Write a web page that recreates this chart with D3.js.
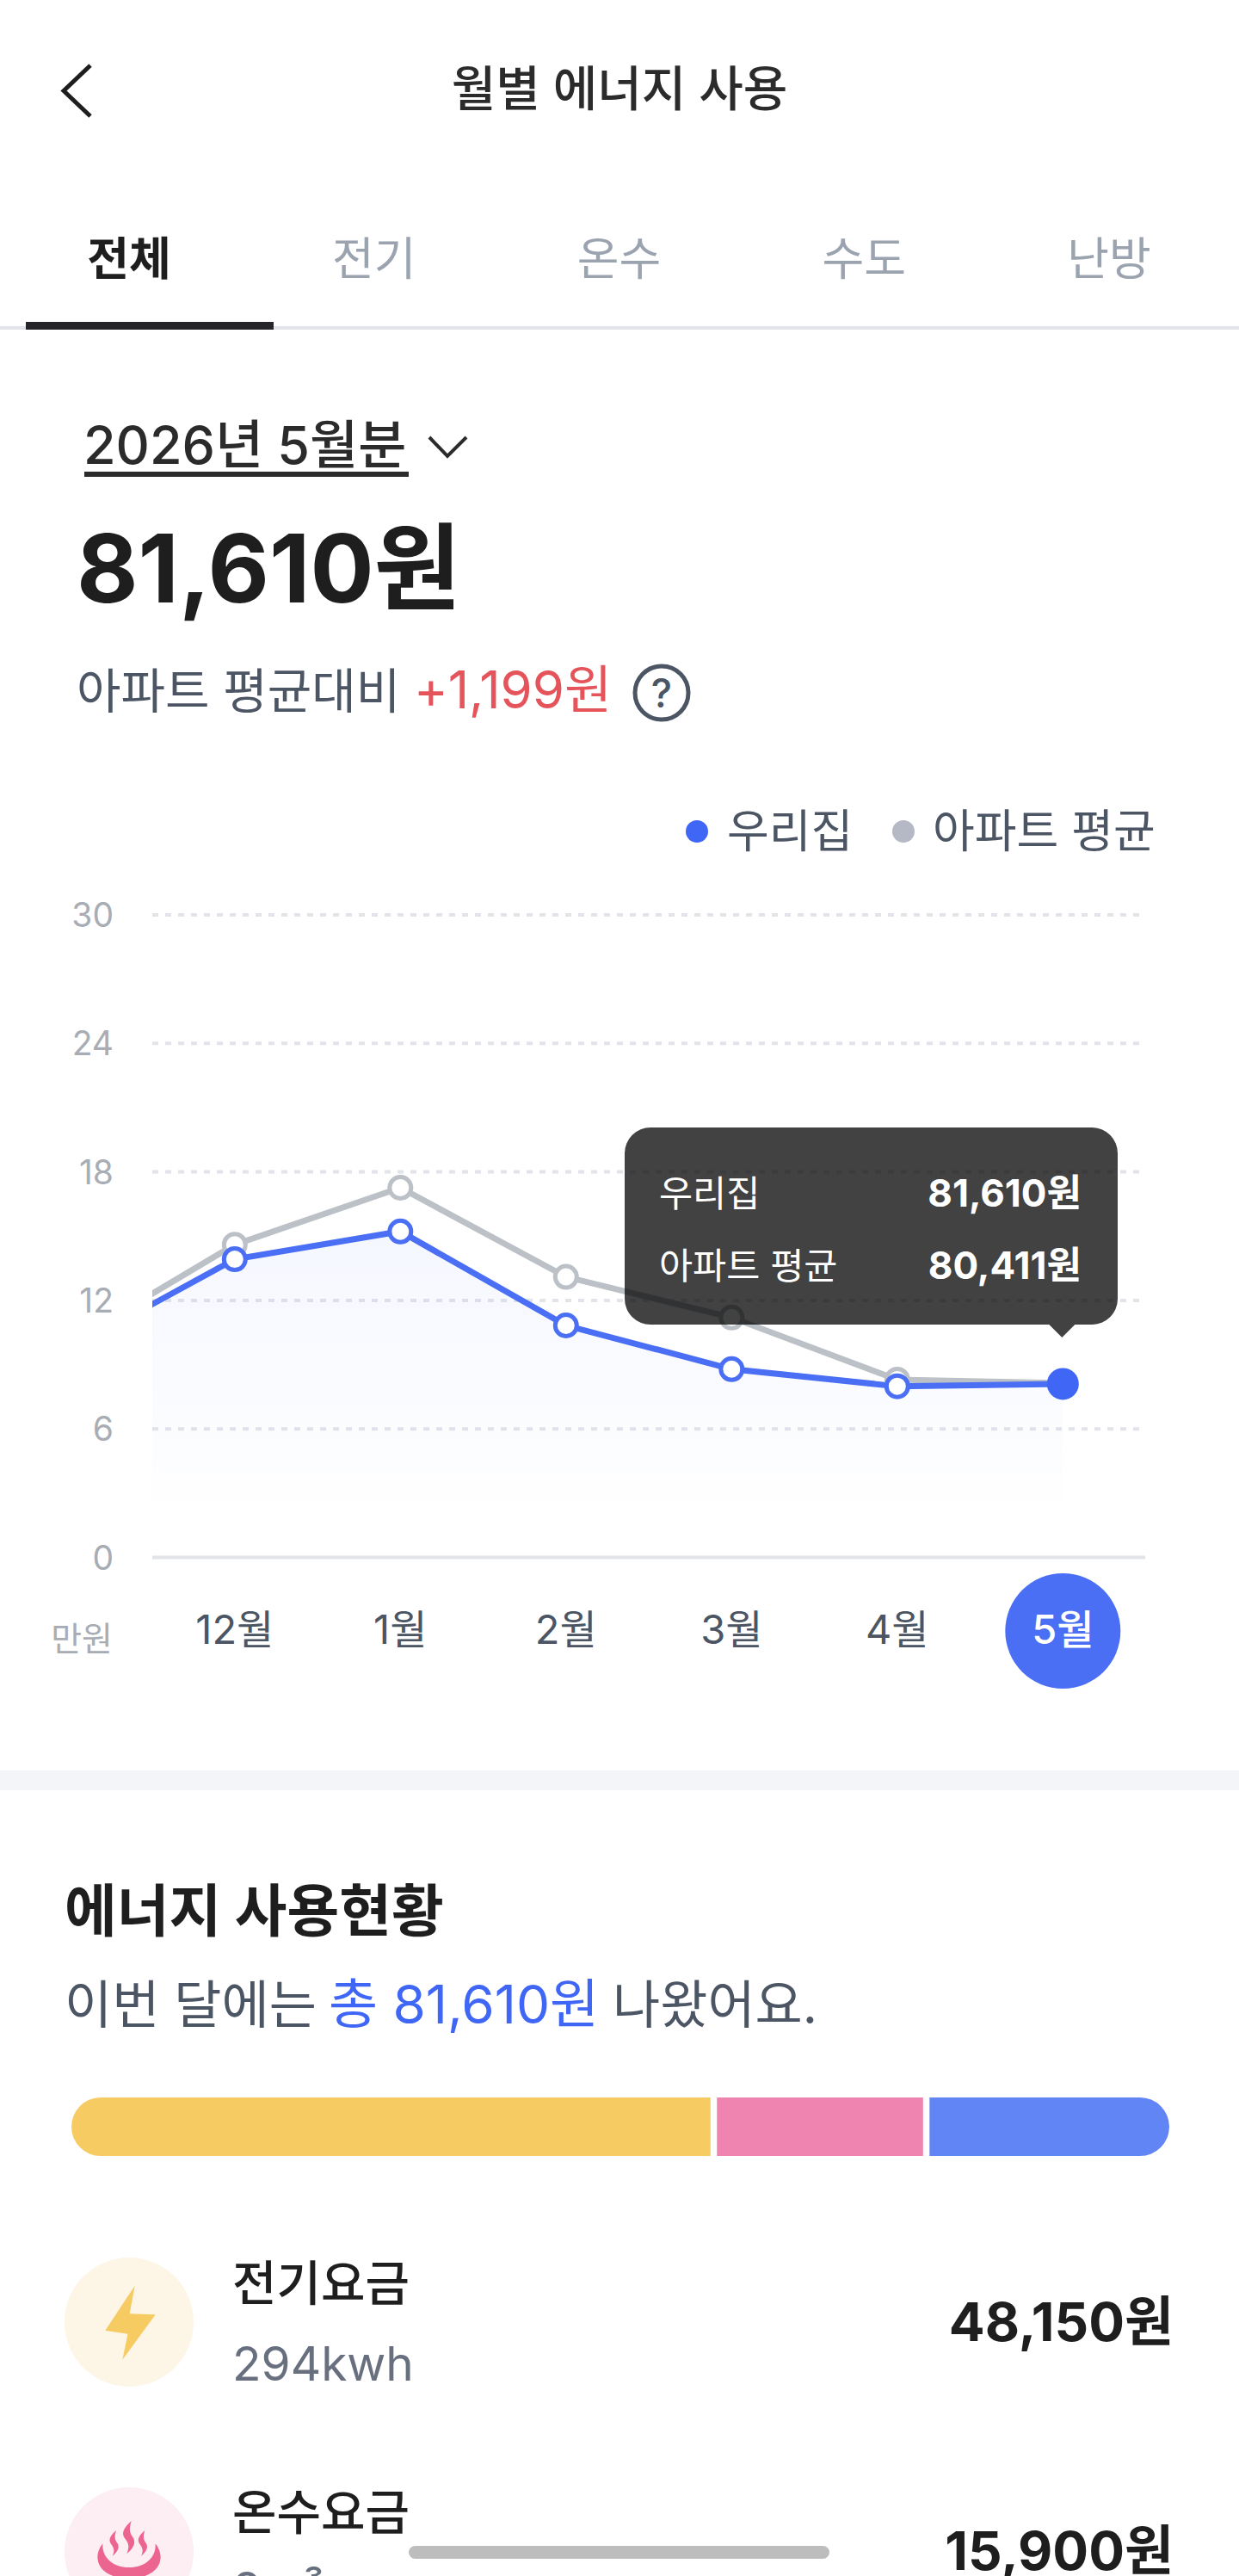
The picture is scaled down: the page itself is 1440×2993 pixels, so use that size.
<!DOCTYPE html>
<html lang="ko">
<head>
<meta charset="utf-8">
<title>월별 에너지 사용</title>
<script src="https://cdn.jsdelivr.net/npm/d3@7/dist/d3.min.js"></script>
<style>
  html, body { margin: 0; padding: 0; background: #fff; }
  svg { display: block; }
  text { font-family: Inter, "Noto Sans CJK KR", sans-serif; }
</style>
</head>
<body>
<div id="page"></div>
<script>
// Monthly values in 만원. 11월 sits left of the plot and only feeds the clipped line start.
const months = ['11월', '12월', '1월', '2월', '3월', '4월', '5월'];
const ourHome = [9.7, 13.92, 15.22, 10.83, 8.79, 7.99, 8.1];
const aptAverage = [10, 14.6, 17.26, 13.1, 11.2, 8.3, 8.14];
const yTicks = [0, 6, 12, 18, 24, 30];

const tabs = ['전체', '전기', '온수', '수도', '난방'];
const tooltipRows = [['우리집', '81,610원'], ['아파트 평균', '80,411원']];

// Share of the usage bar per utility, in percent.
const usageShares = [58.9, 19, 22.1];
const usageColors = ['#f6cb62', '#f084b0', '#6285f5'];

const W = 1440, H = 2993;
const svg = d3.select('#page').append('svg').attr('width', W).attr('height', H).attr('viewBox', `0 0 ${W} ${H}`);
const defs = svg.append('defs');

const INK = '#1e1e1e', SLATE = '#4b5563', MUTED = '#a8adb5', BLUE = '#3f66f5', LINE_BLUE = '#4a6ff5', GRAY = '#bcc1c7';

function label(x, y, str, size, weight, fill, anchor = 'start', spacing = 0){
  return svg.append('text').attr('x', x).attr('y', y).attr('font-size', size).attr('font-weight', weight)
    .attr('fill', fill).attr('text-anchor', anchor).attr('letter-spacing', spacing).text(str);
}

// Header
svg.append('path').attr('d', 'M105,76L74,105.5L105,135').attr('fill', 'none').attr('stroke', INK).attr('stroke-width', 5);
label(720, 123, '월별 에너지 사용', 56, 500, '#2b2b2b', 'middle');

// Tabs
const tabX = d3.scalePoint().domain(tabs).range([150, 1289]);
svg.append('rect').attr('y', 379).attr('width', W).attr('height', 4).attr('fill', '#e2e4ea');
svg.append('rect').attr('x', 30).attr('y', 374).attr('width', 288).attr('height', 9).attr('fill', '#26262a');
svg.selectAll('text.tab').data(tabs).join('text').attr('class', 'tab')
  .attr('x', d => tabX(d)).attr('y', 320).attr('text-anchor', 'middle').attr('font-size', 53)
  .attr('font-weight', (d, i) => i ? 400 : 700).attr('fill', (d, i) => i ? '#9aa3af' : INK).text(d => d);

// Summary block
label(97, 539, '2026년 5월분', 61, 500, '#2b2b2b');
svg.append('rect').attr('x', 98).attr('y', 548).attr('width', 377).attr('height', 6).attr('fill', '#2b2b2b');
svg.append('path').attr('d', 'M499,508L520,530L542,508').attr('fill', 'none').attr('stroke', '#2b2b2b').attr('stroke-width', 4);
label(89, 700, '81,610원', 110, 700, INK);
label(89, 823, '아파트 평균대비', 56, 400, SLATE);
label(481, 823, '+1,199원', 60, 400, '#e5545a');
svg.append('circle').attr('cx', 769).attr('cy', 805).attr('r', 31).attr('fill', 'none').attr('stroke', SLATE).attr('stroke-width', 5);
label(769, 822, '?', 46, 500, SLATE, 'middle');

// Legend
svg.append('circle').attr('cx', 810).attr('cy', 966).attr('r', 13).attr('fill', BLUE);
label(845, 985, '우리집', 53, 400, SLATE);
svg.append('circle').attr('cx', 1050).attr('cy', 966).attr('r', 13).attr('fill', '#b5b9c6');
label(1084, 985, '아파트 평균', 53, 400, SLATE);

// Chart
const plotLeft = 177, gridRight = 1324, axisRight = 1331;
const x = d3.scalePoint().domain(months).range([80.3, 1235.3]);
const y = d3.scaleLinear().domain([0, 30]).range([1809.5, 1063]);

const grad = defs.append('linearGradient').attr('id', 'areaFill')
  .attr('gradientUnits', 'userSpaceOnUse').attr('x1', 0).attr('y1', y(15.22)).attr('x2', 0).attr('y2', y(1.5));
grad.append('stop').attr('offset', 0).attr('stop-color', LINE_BLUE).attr('stop-opacity', 0.055);
grad.append('stop').attr('offset', 1).attr('stop-color', LINE_BLUE).attr('stop-opacity', 0);
defs.append('clipPath').attr('id', 'plotClip').append('rect')
  .attr('x', plotLeft).attr('y', 1000).attr('width', axisRight - plotLeft).attr('height', 900);

svg.selectAll('line.grid').data(yTicks.filter(d => d > 0)).join('line').attr('class', 'grid')
  .attr('x1', plotLeft).attr('x2', gridRight).attr('y1', d => y(d)).attr('y2', d => y(d))
  .attr('stroke', '#e2e4ea').attr('stroke-width', 4).attr('stroke-dasharray', '7 8');
svg.append('line').attr('x1', plotLeft).attr('x2', axisRight).attr('y1', y(0)).attr('y2', y(0))
  .attr('stroke', '#e2e4ea').attr('stroke-width', 4);

svg.selectAll('text.ytick').data(yTicks).join('text').attr('class', 'ytick')
  .attr('x', 132).attr('y', d => y(d)).attr('dy', '0.36em').attr('text-anchor', 'end')
  .attr('font-size', 39).attr('fill', MUTED).text(d => d);

const plot = svg.append('g').attr('clip-path', 'url(#plotClip)');
const indices = d3.range(months.length);
const px = i => x(months[i]);
plot.append('path').datum(indices)
  .attr('d', d3.area().x(px).y0(y(0)).y1(i => y(ourHome[i])))
  .attr('fill', 'url(#areaFill)');
const lineOf = values => d3.line().x(px).y(i => y(values[i]))(indices);
plot.append('path').attr('d', lineOf(aptAverage)).attr('fill', 'none').attr('stroke', GRAY).attr('stroke-width', 7);
plot.append('path').attr('d', lineOf(ourHome)).attr('fill', 'none').attr('stroke', LINE_BLUE).attr('stroke-width', 7);

// Open markers for every month but the selected one; the gray series goes underneath.
[[aptAverage, GRAY], [ourHome, LINE_BLUE]].forEach(([values, color]) => {
  svg.append('g').selectAll('circle').data(indices.slice(1, -1)).join('circle')
    .attr('cx', px).attr('cy', i => y(values[i])).attr('r', 12.5)
    .attr('fill', '#fff').attr('stroke', color).attr('stroke-width', 5);
});
svg.append('circle').attr('cx', px(6)).attr('cy', y(ourHome[6])).attr('r', 18.5).attr('fill', BLUE);

// Month labels
svg.append('circle').attr('cx', px(6)).attr('cy', 1895).attr('r', 67).attr('fill', LINE_BLUE);
svg.selectAll('text.month').data(months.slice(1)).join('text').attr('class', 'month')
  .attr('x', d => x(d)).attr('y', 1910).attr('text-anchor', 'middle').attr('font-size', 47)
  .attr('font-weight', d => d === '5월' ? 500 : 400).attr('fill', d => d === '5월' ? '#fff' : SLATE).text(d => d);
label(131, 1918, '만원', 39, 400, MUTED, 'end');

// Tooltip: translucent black so the lines darken underneath it.
const tipL = 726, tipR = 1299, tipT = 1310, tipB = 1539, tipAt = px(6) - 1;
svg.append('path').attr('fill', '#000').attr('fill-opacity', 0.74)
  .attr('d', `M${tipL + 30},${tipT}H${tipR - 30}A30,30 0 0 1 ${tipR},${tipT + 30}V${tipB - 30}A30,30 0 0 1 ${tipR - 30},${tipB}H${tipAt + 15}L${tipAt},${tipB + 15}L${tipAt - 15},${tipB}H${tipL + 30}A30,30 0 0 1 ${tipL},${tipB - 30}V${tipT + 30}A30,30 0 0 1 ${tipL + 30},${tipT}Z`);
tooltipRows.forEach(([name, amount], i) => {
  const rowY = 1402 + i * 84;
  label(766, rowY, name, 42.5, 400, '#fff');
  label(1257, rowY, amount, 44, 700, '#fff', 'end');
});

// Section break
svg.append('rect').attr('y', 2057).attr('width', W).attr('height', 23).attr('fill', '#f4f5f8');

// Usage section
label(75, 2244, '에너지 사용현황', 66, 700, INK);
label(75, 2351, '이번 달에는', 60, 400, SLATE);
label(382, 2351, '총 81,610원', 62, 400, BLUE);
label(712, 2351, '나왔어요.', 60, 400, SLATE);

// Stacked bar from the shares, with white gaps between segments.
const barX = d3.scaleLinear().domain([0, 100]).range([83, 1344]);
const barTop = 2437, barH = 68, barGap = 7.5;
defs.append('clipPath').attr('id', 'barClip').append('rect')
  .attr('x', 83).attr('y', barTop).attr('width', 1276).attr('height', barH).attr('rx', 34);
const starts = d3.cumsum([0].concat(usageShares)).slice(0, 3);
svg.append('g').attr('clip-path', 'url(#barClip)').selectAll('rect').data(usageShares).join('rect')
  .attr('x', (d, i) => barX(starts[i]) + i * barGap).attr('y', barTop)
  .attr('width', d => barX(d) - barX(0)).attr('height', barH)
  .attr('fill', (d, i) => usageColors[i]);

// Row: electricity
svg.append('circle').attr('cx', 150).attr('cy', 2698).attr('r', 75).attr('fill', '#fdf5e6');
svg.append('path').attr('d', 'M156.7,2655.7L122.3,2707.7L148.5,2711.7L142.3,2741.7L180.7,2689.3L150.7,2688.3Z').attr('fill', '#f6cb62');
label(270, 2673, '전기요금', 56, 500, INK);
label(270, 2766, '294kwh', 55, 400, '#687080');
label(1364, 2720, '48,150원', 62, 700, INK, 'end');

// Row: hot water, cut by the bottom of the page
svg.append('circle').attr('cx', 150).attr('cy', 2965).attr('r', 75).attr('fill', '#fceef2');
const FLAME = '#ec6490';
svg.append('path').attr('fill', FLAME)
  .attr('d', 'M119.5,2955.5C108,2968 110,2995 150,2996C190,2995 192,2968 180.5,2955.5C182,2970 170,2983 150,2983C130,2983 118,2970 119.5,2955.5Z');
[[152.7, 2929, 1], [135, 2940, 0.78], [168.3, 2940, 0.78]].forEach(([fx, fy, k]) => {
  svg.append('path').attr('fill', FLAME).attr('transform', `translate(${fx},${fy}) scale(${k})`)
    .attr('d', 'M0,0C-10,9 -12,15 -7,21C-3,26 -2,31 -5.5,38C3,32 6,24 1,18C-3,12 -2,7 0,0Z');
});
label(270, 2939, '온수요금', 56, 500, INK);
label(270, 3028, '8m³', 55, 400, '#687080');
label(1364, 2986, '15,900원', 62, 700, INK, 'end');

// Scroll indicator
svg.append('rect').attr('x', 475).attr('y', 2958).attr('width', 489).attr('height', 15).attr('rx', 7.5).attr('fill', '#bdbdbd');
</script>
</body>
</html>
